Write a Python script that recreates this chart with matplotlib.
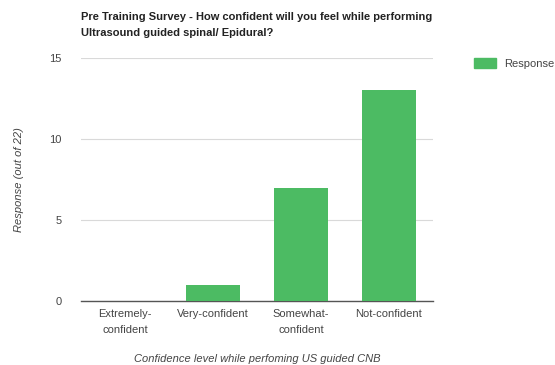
import matplotlib
matplotlib.use("Agg")
import matplotlib.pyplot as plt
from matplotlib.patches import Patch

# 데이터
categories = ["Extremely-\nconfident", "Very-confident", "Somewhat-\nconfident", "Not-confident"]
responses = [0, 1, 7, 13]
y_ticks = [0, 5, 10, 15]

plt.rcParams['font.family'] = ['Liberation Sans', 'DejaVu Sans']

fig = plt.figure(figsize=(5.55, 3.65), dpi=100)
ax = fig.add_axes([81/555, 1 - 301/365, 352/555, 243/365])

green = '#4cbb63'
ax.bar(range(len(categories)), responses, width=0.62, color=green, zorder=3)

ax.set_xlim(-0.5, len(categories) - 0.5)
ax.set_ylim(0, 15)
ax.set_yticks(y_ticks)
ax.set_xticks(range(len(categories)))
ax.set_xticklabels(categories, fontsize=8, color='#444444', linespacing=1.7)
ax.tick_params(axis='y', labelsize=8, labelcolor='#444444', length=0, pad=14)
ax.tick_params(axis='x', length=0, pad=6)
ax.grid(axis='y', color='#d9d9d9', linewidth=0.8, zorder=0)

for s in ['top', 'right', 'left']:
    ax.spines[s].set_visible(False)
ax.spines['bottom'].set_color('#555555')
ax.spines['bottom'].set_linewidth(1.0)

ax.set_ylabel("Response (out of 22)", fontsize=8, style='italic', color='#444444', labelpad=18)
ax.set_xlabel("Confidence level while perfoming US guided CNB", fontsize=8, style='italic',
              color='#444444', labelpad=14)

fig.text(81/555, 1 - 12/365,
         "Pre Training Survey - How confident will you feel while performing\nUltrasound guided spinal/ Epidural?",
         fontsize=8.0, fontweight='bold', color='#222222', va='top', ha='left', linespacing=1.7)

fig.legend(handles=[Patch(color=green)], labels=["Response"], loc='upper left',
           bbox_to_anchor=(470/555, 1 - 54/365), frameon=False, fontsize=8,
           handlelength=1.9, handleheight=1.0, labelcolor='#444444', borderaxespad=0)

fig.savefig("out.png", dpi=100)
